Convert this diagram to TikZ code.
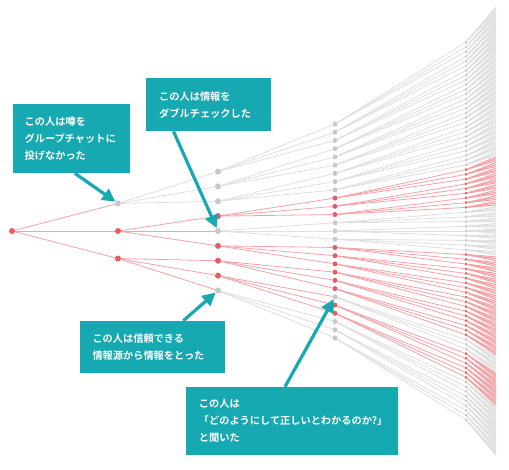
\documentclass[tikz,border=0pt]{standalone}
\usepackage{fontspec}
\newfontfamily\jpfont{Noto Sans CJK JP Bold}
\usetikzlibrary{arrows.meta,backgrounds}
\definecolor{hitdot}{HTML}{EA5A63}
\definecolor{hitline}{HTML}{F4A2A7}
\definecolor{stopdot}{HTML}{C8C8C8}
\definecolor{stopline}{HTML}{DFDFDF}
\definecolor{notecyan}{HTML}{16A9B1}
\tikzset{
  treelink/.style={line width=0.8pt,draw=#1line},
  treedot/.style={circle,inner sep=0pt,fill=#1dot},
  note/.style={fill=notecyan,text=white,anchor=north west,align=left,
    inner xsep=13pt,inner ysep=0pt,font=\jpfont\fontsize{10.2}{17}\selectfont},
  pointer/.style={notecyan,line width=3.2pt,-{Triangle[length=13pt,width=13pt]}}
}
\def\markstop#1{\expandafter\gdef\csname stop-#1\endcsname{}}
\markstop{1-0}\markstop{2-4}\markstop{2-8}\markstop{3-21}

\begin{document}
\begin{tikzpicture}[x=1pt,y=-1pt]
  \useasboundingbox (0,0) rectangle (509,470);
  \node[treedot=hit,minimum size=6pt] (n0-0) at (12,231) {};
  \expandafter\gdef\csname col-0-0\endcsname{hit}
  \foreach \L/\X/\S/\D in {1/118/27.5/6pt,2/218/14.875/6pt,3/335/8.23/5pt,4/466/4.72/3pt}{
    \pgfmathtruncatemacro\P{\L-1}
    \pgfmathtruncatemacro\N{3^\L-1}
    \foreach \i in {0,...,\N}{
      \pgfmathtruncatemacro\p{\i/3}
      \edef\pc{\csname col-\P-\p\endcsname}
      \ifcsname stop-\L-\i\endcsname \def\cc{stop}\else \let\cc\pc\fi
      \expandafter\xdef\csname col-\L-\i\endcsname{\cc}
      \node[treedot=\cc,minimum size=\D] (n\L-\i) at (\X,{231+(\i-\N/2)*\S}) {};
      \begin{pgfonlayer}{background}
        \draw[treelink=\pc] (n\P-\p) -- (n\L-\i);
      \end{pgfonlayer}
    }
  }
  \begin{pgfonlayer}{background}
    \foreach \k in {0,...,242}{
      \pgfmathtruncatemacro\p{\k/3}
      \edef\pc{\csname col-4-\p\endcsname}
      \coordinate (e-\k) at (496,{231+(\k-121)*1.852});
      \draw[treelink=\pc,line width=1.1pt] (n4-\p) -- (e-\k);
    }
  \end{pgfonlayer}

  \node[note,text width=93pt,minimum height=69pt,inner xsep=12pt] (note1) at (12.5,104)
    {この人は噂を\\グループチャットに\\投げなかった};
  \node[note,text width=99pt,minimum height=53pt] (note2) at (146,78)
    {この人は情報を\\ダブルチェックした};
  \node[note,text width=119pt,minimum height=52pt] (note3) at (79.3,320.7)
    {この人は信頼できる\\情報源から情報をとった};
  \node[note,text width=186pt,minimum height=68pt] (note4) at (185.7,386.7)
    {この人は\\「どのようにして正しいとわかるのか?」\\と聞いた};

  \draw[pointer] ([xshift=62.5pt]note1.south west) -- (n1-0);
  \draw[pointer] ([xshift=27.5pt]note2.south west) -- (n2-4);
  \draw[pointer] ([xshift=104pt]note3.north west) -- (n2-8);
  \draw[pointer] ([xshift=99.3pt]note4.north west) -- (n3-21);
\end{tikzpicture}
\end{document}
